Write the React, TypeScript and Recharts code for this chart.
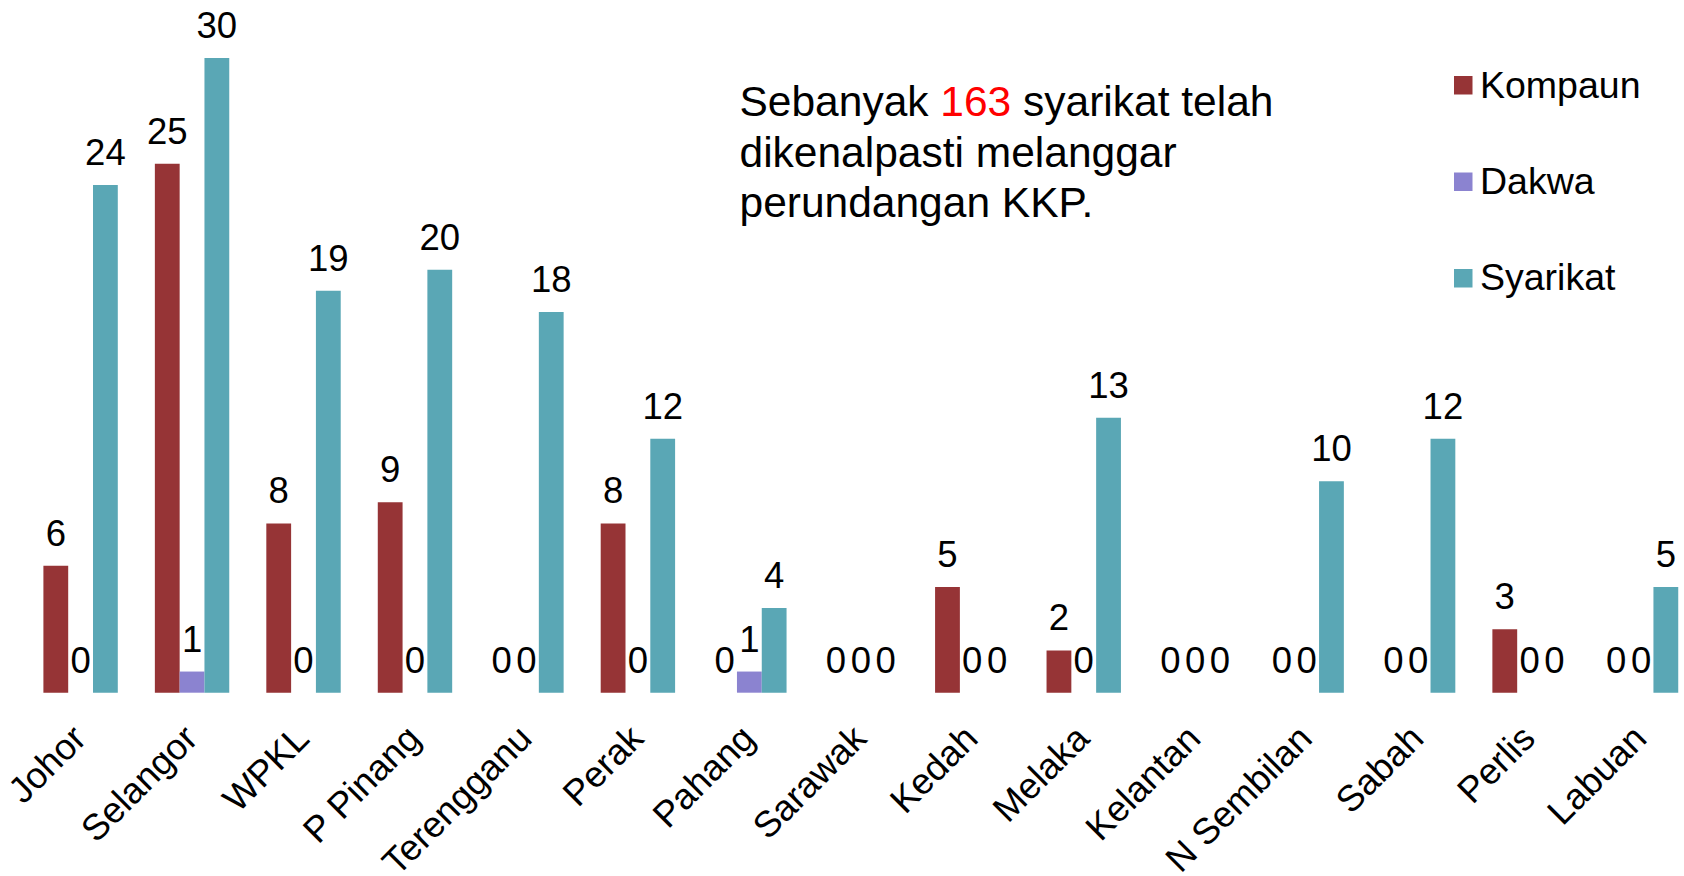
import React from 'react';
import { BarChart, Bar, XAxis, YAxis, LabelList, Legend } from 'recharts';

const categories = ['Johor', 'Selangor', 'WPKL', 'P Pinang', 'Terengganu', 'Perak', 'Pahang', 'Sarawak', 'Kedah', 'Melaka', 'Kelantan', 'N Sembilan', 'Sabah', 'Perlis', 'Labuan'];
const kompaun = [6, 25, 8, 9, 0, 8, 0, 0, 5, 2, 0, 0, 0, 3, 0];
const dakwa = [0, 1, 0, 0, 0, 0, 1, 0, 0, 0, 0, 0, 0, 0, 0];
const syarikat = [24, 30, 19, 20, 18, 12, 4, 0, 0, 13, 0, 10, 12, 0, 5];

const seriesNames = ['Kompaun', 'Dakwa', 'Syarikat'];
const seriesColors = ['#963436', '#8B83D0', '#5AA7B5'];

const data = categories.map((name, i) => ({
  name,
  kompaun: kompaun[i],
  dakwa: dakwa[i],
  syarikat: syarikat[i],
}));

const FONT = '"Liberation Sans", Arial, sans-serif';

const AxisTick = (props: any) => {
  const { x, y, payload } = props;
  const tx = x + 8;
  const ty = y + 48;
  return (
    <text
      x={tx}
      y={ty}
      transform={`rotate(-45 ${tx} ${ty})`}
      textAnchor="end"
      fontSize={36.5}
      fontFamily={FONT}
      fill="#000"
    >
      {payload.value}
    </text>
  );
};

const renderLegend = () => (
  <svg width={240} height={270} style={{ display: 'block' }}>
    {seriesNames.map((n, i) => (
      <g key={n}>
        <rect x={14} y={36 + i * 96.5} width={18.5} height={18.5} fill={seriesColors[i]} />
        <text x={40} y={58.3 + i * 96} fontSize={37.5} fontFamily={FONT} fill="#000">
          {n}
        </text>
      </g>
    ))}
  </svg>
);

const ValueLabel = (props: any) => {
  const { x, y, width, value } = props;
  if (value == null) return null;
  return (
    <text
      x={Number(x) + Number(width) / 2}
      y={Number(y) - 20}
      textAnchor="middle"
      fontSize={36.5}
      fontFamily={FONT}
      fill="#000"
    >
      {value}
    </text>
  );
};

export default function App() {
  return (
    <div
      style={{
        position: 'absolute',
        left: 0,
        top: 0,
        width: 1684,
        height: 876,
        overflow: 'hidden',
        background: '#fff',
      }}
    >
      <BarChart
        width={1697}
        height={876}
        data={data}
        margin={{ top: 58.1, right: 0.7, left: 24.4, bottom: 0 }}
        barGap={0}
        barSize={24.8}
      >
        <XAxis
          dataKey="name"
          axisLine={false}
          tickLine={false}
          tickSize={0}
          tickMargin={0}
          height={183.3}
          interval={0}
          tick={<AxisTick />}
        />
        <YAxis hide domain={[0, 30]} />
        <Legend
          layout="horizontal"
          verticalAlign="middle"
          align="center"
          content={renderLegend}
          wrapperStyle={{ position: 'absolute', left: 1440, top: 40, width: 240, height: 270 }}
        />
        <Bar dataKey="kompaun" name="Kompaun" fill={seriesColors[0]} minPointSize={0.01} isAnimationActive={false}>
          <LabelList dataKey="kompaun" content={<ValueLabel />} />
        </Bar>
        <Bar dataKey="dakwa" name="Dakwa" fill={seriesColors[1]} minPointSize={0.01} isAnimationActive={false}>
          <LabelList dataKey="dakwa" content={<ValueLabel />} />
        </Bar>
        <Bar dataKey="syarikat" name="Syarikat" fill={seriesColors[2]} minPointSize={0.01} isAnimationActive={false}>
          <LabelList dataKey="syarikat" content={<ValueLabel />} />
        </Bar>
      </BarChart>
      <div
        style={{
          position: 'absolute',
          left: 739.5,
          top: 77.3,
          fontFamily: FONT,
          fontSize: 42.5,
          lineHeight: '50.5px',
          color: '#000',
          whiteSpace: 'nowrap',
        }}
      >
        <div>
          Sebanyak <span style={{ color: '#FF0000' }}>163</span> syarikat telah
        </div>
        <div>dikenalpasti melanggar</div>
        <div>perundangan KKP.</div>
      </div>
    </div>
  );
}
